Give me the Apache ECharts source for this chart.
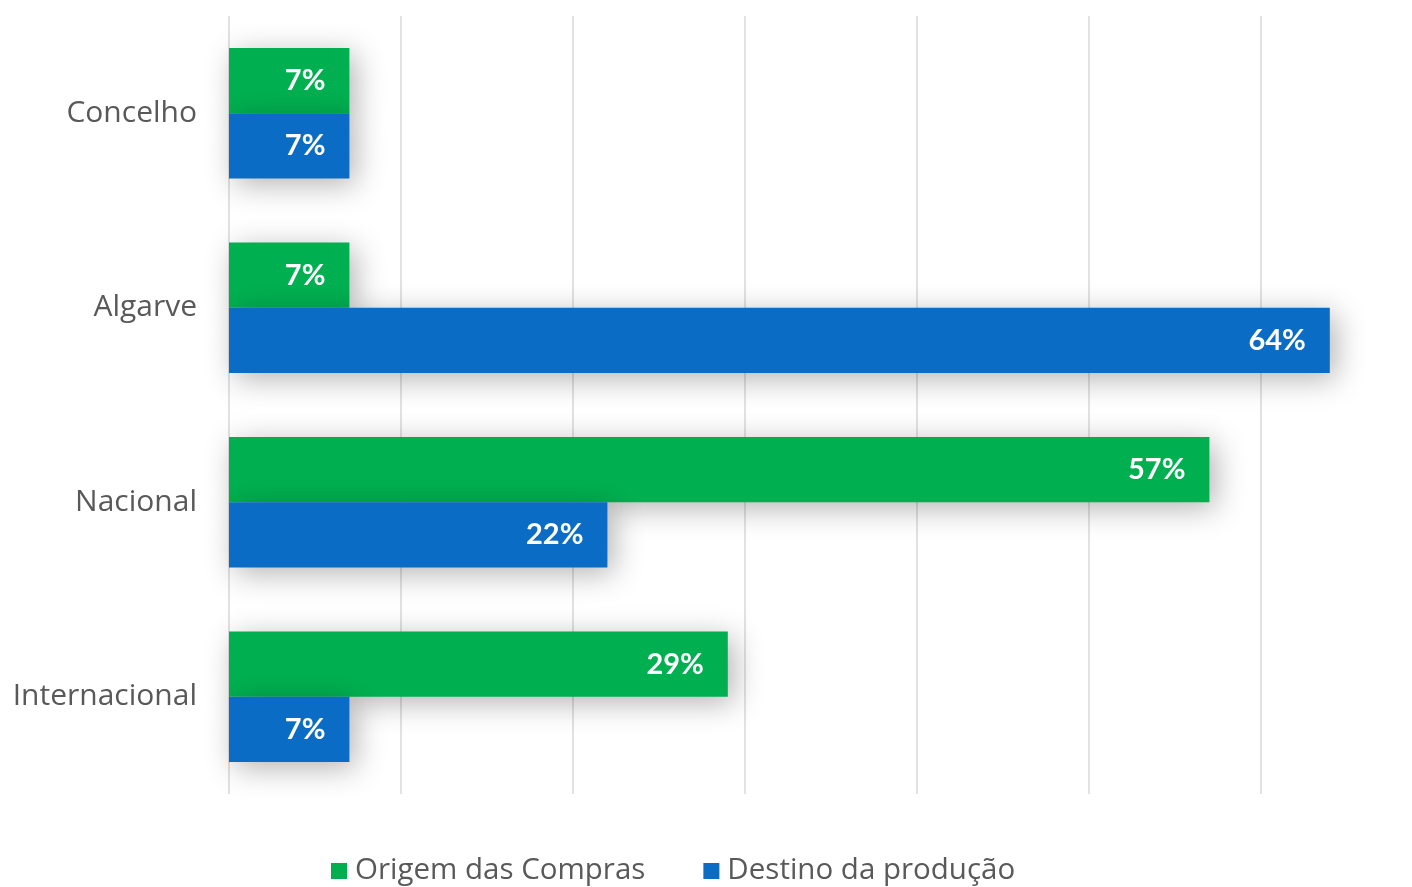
<!DOCTYPE html>
<html>
<head>
<meta charset="utf-8">
<script src="https://cdn.jsdelivr.net/npm/echarts@6/dist/echarts.min.js"></script>
<style>html,body{margin:0;padding:0;background:#fff;overflow:hidden;width:1412px;height:887px;}#c{width:1450px;height:887px;}</style>
</head>
<body>
<div id="c"></div>
<script>
const categories = ['Concelho', 'Algarve', 'Nacional', 'Internacional'];
const seriesNames = ['Origem das Compras', 'Destino da produção'];
const origemCompras = [7, 7, 57, 29];
const destinoProducao = [7, 64, 22, 7];
const axisMax = 70;
const axisStep = 10;

const chart = echarts.init(document.getElementById('c'), null, {renderer: 'canvas'});
const labelCfg = {
  show: true,
  position: 'insideRight',
  distance: 24,
  color: '#ffffff',
  fontFamily: 'Lato',
  fontWeight: 'bold',
  fontSize: 29,
  formatter: p => p.value + '%'
};
const shadow = {shadowBlur: 30, shadowColor: 'rgba(0,0,0,0.3)', shadowOffsetX: 6, shadowOffsetY: 6};
chart.setOption({
  animation: false,
  backgroundColor: '#ffffff',
  grid: {left: 229, right: 17, top: 16, bottom: 93, containLabel: false},
  legend: {
    data: seriesNames,
    top: 851,
    left: 326,
    itemWidth: 16,
    itemHeight: 16,
    itemGap: 58,
    icon: 'rect',
    textStyle: {color: '#595959', fontSize: 29.5, fontFamily: 'Open Sans', padding: [0, 0, 0, 3]}
  },
  xAxis: {
    type: 'value',
    min: 0,
    max: axisMax,
    interval: axisStep,
    axisLabel: {show: false},
    axisLine: {show: false},
    axisTick: {show: false},
    splitLine: {show: true, lineStyle: {color: '#d9d9d9', width: 1.5}}
  },
  yAxis: {
    type: 'category',
    data: categories,
    inverse: true,
    axisLine: {show: false},
    axisTick: {show: false},
    axisLabel: {color: '#595959', fontSize: 30, fontFamily: 'Open Sans', margin: 32}
  },
  series: [
    {
      name: seriesNames[0],
      type: 'bar',
      data: origemCompras,
      barGap: '0%',
      barCategoryGap: '33%',
      itemStyle: Object.assign({color: '#00b050'}, shadow),
      label: labelCfg
    },
    {
      name: seriesNames[1],
      type: 'bar',
      data: destinoProducao,
      barGap: '0%',
      barCategoryGap: '33%',
      itemStyle: Object.assign({color: '#0a6cc4'}, shadow),
      label: labelCfg
    }
  ]
});
</script>
</body>
</html>
